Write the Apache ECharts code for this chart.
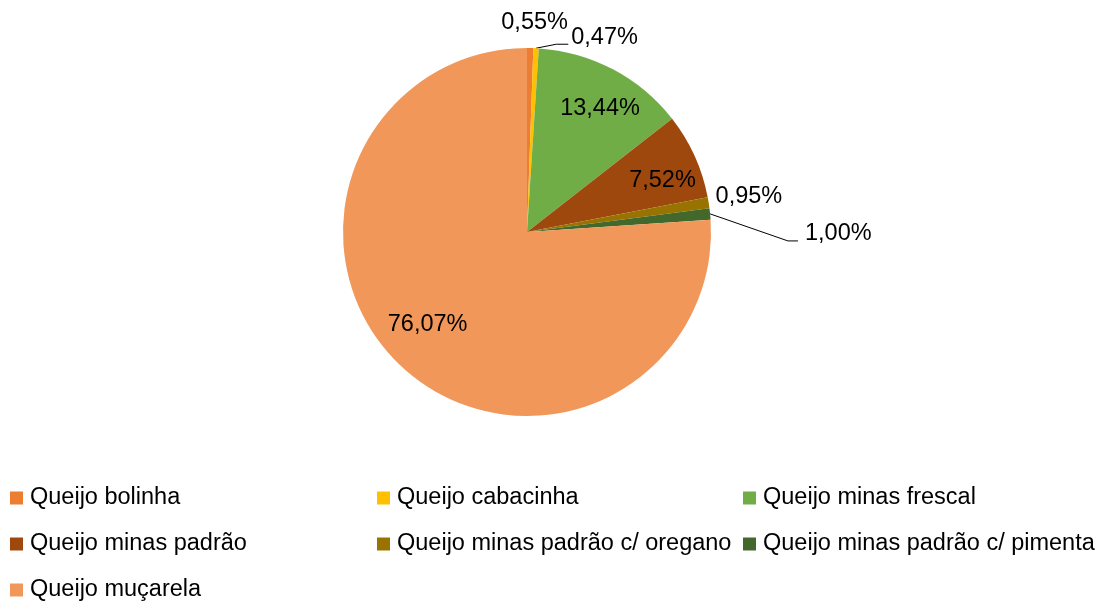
<!doctype html>
<html lang="pt">
<head>
    <meta charset="UTF-8">
    <title>Queijos</title>
    <style>
        body { margin: 0; background: #fff; }
        #chart { width: 1104px; height: 601px; }
    </style>
</head>
<body>
<div id="chart"></div>
<script src="https://cdn.jsdelivr.net/npm/echarts@6/dist/echarts.min.js"></script>
<script>
    var nomes = ['Queijo bolinha', 'Queijo cabacinha', 'Queijo minas frescal', 'Queijo minas padrão',
        'Queijo minas padrão c/ oregano', 'Queijo minas padrão c/ pimenta', 'Queijo muçarela'];
    var valores = [0.55, 0.47, 13.44, 7.52, 0.95, 1.00, 76.07];
    var cores = ['#ED7D31', '#FFC000', '#70AD47', '#9E480E', '#997300', '#43682B', '#F1975A'];
    var dentro = [2, 3, 6]; // fatias com rotulo dentro

    var fonte = 'Liberation Sans, Arial, sans-serif';
    var tam = 23.5;
    function pct(v) { return v.toFixed(2).replace('.', ',') + '%'; }

    // linhas de chamada das fatias pequenas
    var linhas = {
        0: { show: false, length: 6, length2: 0 },
        1: { show: true, length: 4, length2: 28 },
        4: { show: false, length: 4, length2: 0 },
        5: { show: true, length: 30, length2: 50 }
    };
    // ajustes finos dos rotulos: [dx, dy, recuo da quebra, recuo do fim, desnivel da linha]
    var ajusteFora = { 0: [-32, -20], 1: [4, -7, 15, 3, 7], 4: [0, -6], 5: [12, 23, 17, 7, 7] };
    var ajusteDentro = { 2: [5, 5], 3: [3, 9], 6: [0, -14] };

    var dadosFora = nomes.map(function (n, i) {
        var fora = dentro.indexOf(i) < 0;
        return {
            name: n, value: valores[i], itemStyle: { color: cores[i] },
            label: { show: fora },
            labelLine: fora ? linhas[i] : { show: false }
        };
    });
    var dadosDentro = nomes.map(function (n, i) {
        return { name: n, value: valores[i], label: { show: dentro.indexOf(i) >= 0 } };
    });

    function legenda(lista, x) {
        return {
            orient: 'vertical', left: x, top: 486, height: 160, padding: 0,
            itemWidth: 13, itemHeight: 13, itemGap: 22,
            icon: 'rect', selectedMode: false,
            data: lista.map(function (i) { return { name: nomes[i], itemStyle: { color: cores[i] } }; }),
            textStyle: { fontFamily: fonte, fontSize: tam, color: '#000', lineHeight: 24, padding: [0, 0, 0, 2] }
        };
    }

    function ajuste(tabela) {
        return function (p) {
            var a = tabela[p.dataIndex];
            if (!a) return {};
            var res = { dx: a[0], dy: a[1] };
            if (a.length > 2 && p.labelLinePoints) {
                var r = p.labelRect;
                var esq = r.x + a[0];
                var cy = r.y + r.height / 2 + a[1] + a[4];
                res.labelLinePoints = [p.labelLinePoints[0], [esq - a[2], cy], [esq - a[3], cy]];
            }
            return res;
        };
    }

    var chart = echarts.init(document.getElementById('chart'));
    chart.setOption({
        animation: false,
        legend: [legenda([0, 3, 6], 10), legenda([1, 4], 377), legenda([2, 5], 743)],
        series: [{
            type: 'pie', center: [527, 232], radius: [0, 184],
            startAngle: 90, clockwise: true,
            avoidLabelOverlap: false,
            itemStyle: { borderWidth: 0 },
            label: {
                position: 'outside', distanceToLabelLine: 3,
                fontFamily: fonte, fontSize: tam, color: '#000',
                formatter: function (p) { return pct(p.value); }
            },
            labelLine: { lineStyle: { color: '#000', width: 1 } },
            labelLayout: ajuste(ajusteFora),
            data: dadosFora
        }, {
            type: 'pie', center: [527, 232], radius: [101, 184],
            startAngle: 90, clockwise: true, silent: true,
            itemStyle: { color: 'rgba(0,0,0,0)' },
            label: {
                position: 'inside',
                fontFamily: fonte, fontSize: tam, color: '#000',
                formatter: function (p) { return pct(p.value); }
            },
            labelLine: { show: false },
            labelLayout: ajuste(ajusteDentro),
            data: dadosDentro
        }]
    });
</script>
</body>
</html>
